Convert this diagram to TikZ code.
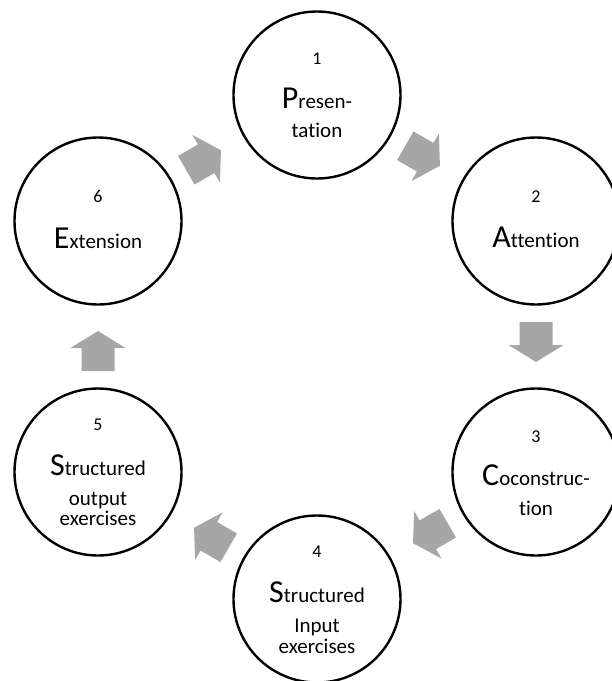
\documentclass[tikz,border=0pt]{standalone}
\usepackage{fontspec}
\setmainfont{Carlito}[Ligatures={NoCommon}]
\usetikzlibrary{calc}
\definecolor{arrowgray}{HTML}{A6A6A6}
\newcommand\bigini[1]{{\fontsize{32}{36}\selectfont #1}}
\tikzset{
  stage/.style={circle,draw=black,line width=2.4pt,minimum size=167pt,inner sep=0pt},
  num/.style={anchor=base,inner sep=0pt,font=\fontsize{18}{21}\selectfont},
  lbl/.style={anchor=base,inner sep=0pt,font=\fontsize{21}{25}\selectfont},
  blockarrow/.pic={\fill[arrowgray] (-24.5,-16.5) -- (-1.5,-16.5) -- (-1.5,-27.5) -- (15.5,0) -- (-1.5,27.5) -- (-1.5,16.5) -- (-24.5,16.5) -- cycle;}
}
\begin{document}
\begin{tikzpicture}[x=1pt,y=-1pt]
\useasboundingbox (0,0) rectangle (612,681);
\clip (0,0) rectangle (612,681);
\node[stage] (c1) at (317,95) {};
\node[stage] (c2) at (536,221) {};
\node[stage] (c3) at (536,472) {};
\node[stage] (c4) at (317,599) {};
\node[stage] (c5) at (98,472) {};
\node[stage] (c6) at (98,221) {};
% texts
\node[num] (n1) at ($(c1.center)+(0,-31)$) {1};
\node[lbl] (l1a) at ($(c1.center)+(0,13)$) {\bigini{P}resen-};
\node[lbl] (l1b) at ($(c1.center)+(0,42)$) {tation};
\node[num] (n2) at ($(c2.center)+(0,-19)$) {2};
\node[lbl] (l2a) at ($(c2.center)+(0,26)$) {\bigini{A}ttention};
\node[num] (n3) at ($(c3.center)+(0,-30)$) {3};
\node[lbl] (l3a) at ($(c3.center)+(0,13)$) {\bigini{C}oconstruc-};
\node[lbl] (l3b) at ($(c3.center)+(0,43)$) {tion};
\node[num] (n4) at ($(c4.center)+(0,-42)$) {4};
\node[lbl] (l4a) at ($(c4.center)+(0,3)$) {\bigini{S}tructured};
\node[lbl] (l4b) at ($(c4.center)+(0,33)$) {Input};
\node[lbl] (l4c) at ($(c4.center)+(0,54)$) {exercises};
\node[num] (n5) at ($(c5.center)+(0,-42)$) {5};
\node[lbl] (l5a) at ($(c5.center)+(0,3)$) {\bigini{S}tructured};
\node[lbl] (l5b) at ($(c5.center)+(0,33)$) {output};
\node[lbl] (l5c) at ($(c5.center)+(0,53)$) {exercises};
\node[num] (n6) at ($(c6.center)+(0,-19)$) {6};
\node[lbl] (l6a) at ($(c6.center)+(0,27)$) {\bigini{E}xtension};
% block arrows
\pic[rotate=-30] at ($(c1.center)!0.5!(c2.center)$) {blockarrow};
\pic[rotate=-90] at ($(c2.center)!0.5!(c3.center)$) {blockarrow};
\pic[rotate=-150] at ($(c3.center)!0.5!(c4.center)$) {blockarrow};
\pic[rotate=150] at ($(c4.center)!0.5!(c5.center)$) {blockarrow};
\pic[rotate=90] at ($(c5.center)!0.5!(c6.center)$) {blockarrow};
\pic[rotate=30] at ($(c6.center)!0.5!(c1.center)$) {blockarrow};
\end{tikzpicture}
\end{document}
